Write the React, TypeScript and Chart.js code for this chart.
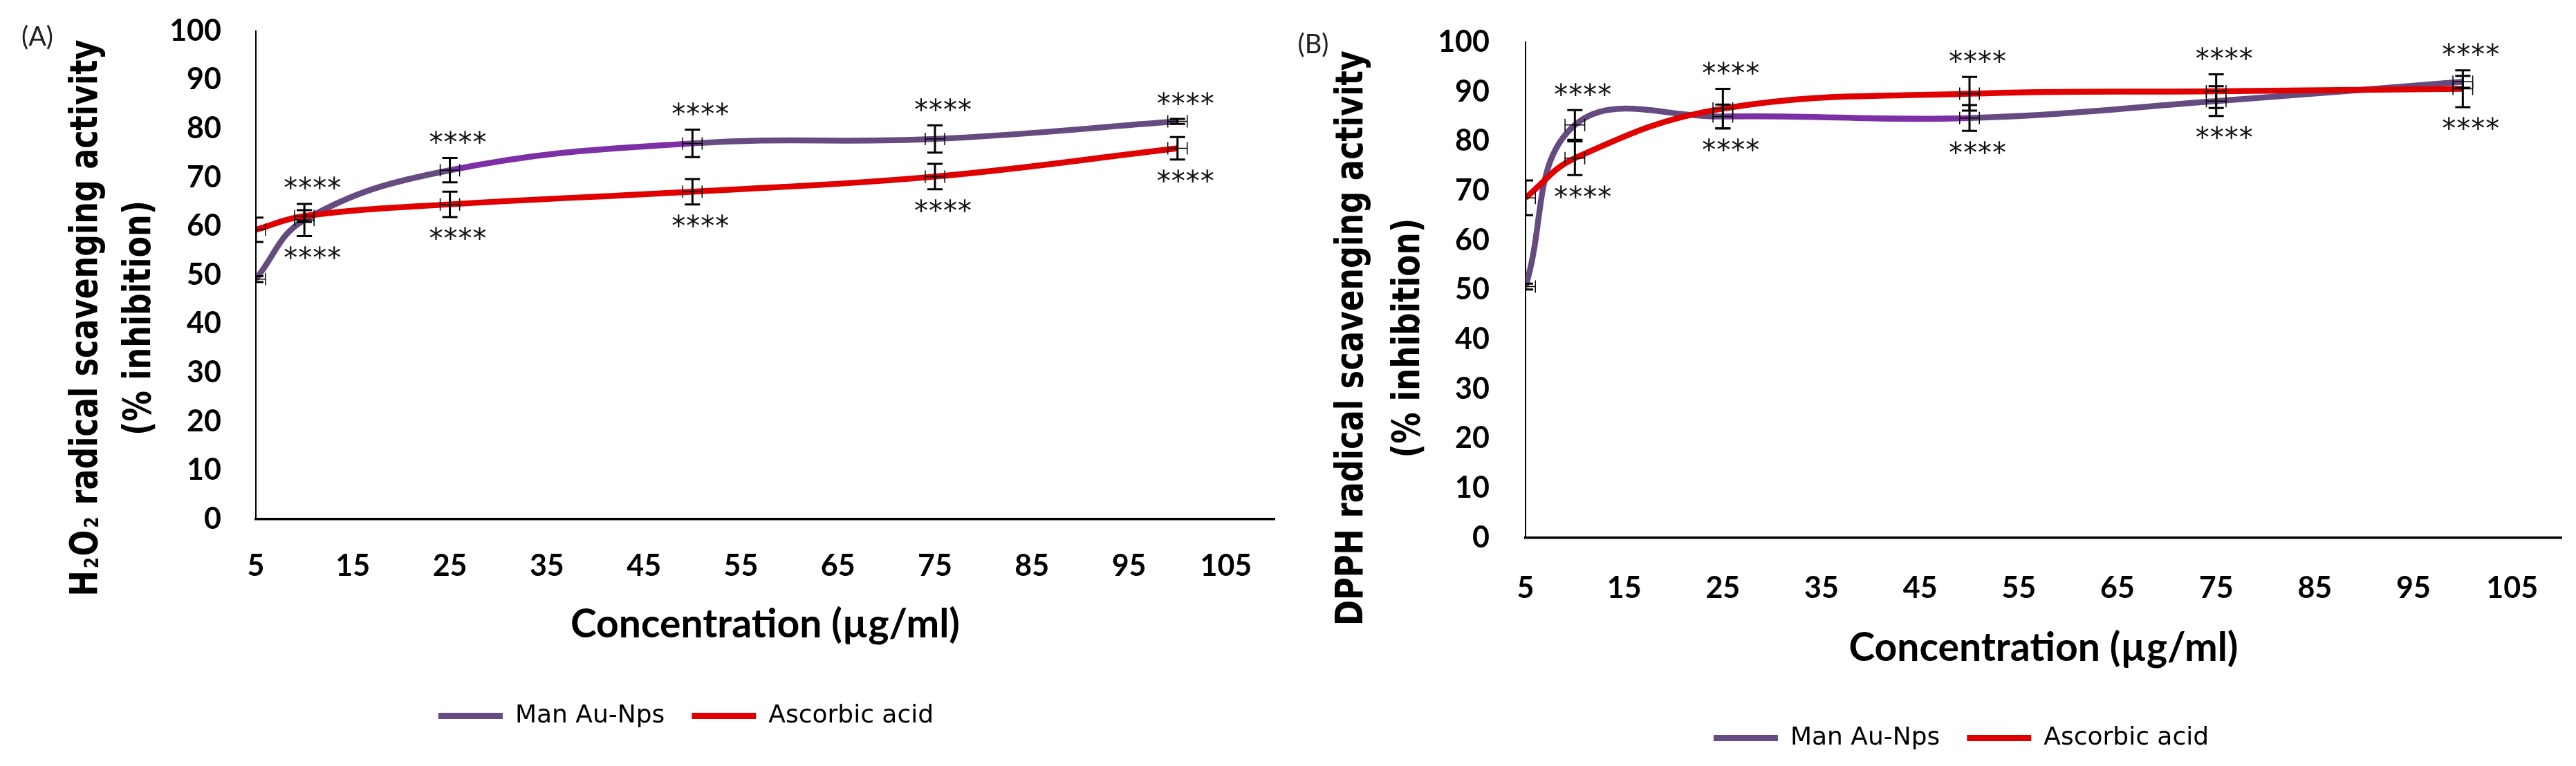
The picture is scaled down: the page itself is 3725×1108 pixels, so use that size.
import { useEffect, useRef } from 'react';
import { Chart, registerables } from 'chart.js';

Chart.register(...registerables);

// x positions of the measurements (µg/ml)
const concentrations = [5, 10, 25, 50, 75, 100];
const xTickValues = [5, 15, 25, 35, 45, 55, 65, 75, 85, 95, 105];
const yTickValues = [0, 10, 20, 30, 40, 50, 60, 70, 80, 90, 100];
const seriesNames = ['Man Au-Nps', 'Ascorbic acid'];
const significance = ['', '****', '****', '****', '****', '****'];
const concentrationError = 1;

// panel A: H2O2 scavenging
const h2o2Man = [49.2, 61.3, 71.5, 77.0, 77.9, 81.5];
const h2o2ManErr = [0.6, 3.3, 2.5, 2.8, 2.8, 0.5];
const h2o2Asc = [59.3, 62.1, 64.5, 67.1, 70.2, 76.0];
const h2o2AscErr = [2.5, 1.2, 2.6, 2.6, 2.6, 2.3];

// panel B: DPPH scavenging
const dpphMan = [50.7, 83.3, 85.0, 84.7, 88.1, 92.0];
const dpphManErr = [0.6, 3.0, 2.4, 2.6, 3.0, 1.2];
const dpphAsc = [68.6, 76.6, 86.6, 89.6, 90.1, 90.6];
const dpphAscErr = [3.5, 3.4, 4.0, 3.4, 3.4, 3.7];

const PURPLE = '#664b80';
const PURPLE_BRIGHT = '#7d2fa6';
const RED = '#e00000';
const HEIGHT = 1108;
const TITLE_SIZE = 56;

type Seg = { t: string; sub?: boolean };

type PanelProps = {
  tag: string;
  titleLine1: Seg[];
  titleLine2: string;
  man: number[];
  manErr: number[];
  asc: number[];
  ascErr: number[];
  width: number;
  padding: { left: number; right: number; top: number; bottom: number };
  yAxisWidth: number;
  xAxisHeight: number;
  xTickPad: number;
  xTitlePad: number;
  yTickPad: number;
  tagPos: [number, number];
  titleX: [number, number]; // baselines of the two rotated lines
  titleY: number;
  titleLen: [number, number];
};

function richWidths(ctx: CanvasRenderingContext2D, segs: Seg[], size: number) {
  const main = `bold ${size}px "DejaVu Sans"`;
  const small = `bold ${Math.round(size * 0.52)}px "DejaVu Sans"`;
  return segs.map((s) => {
    ctx.font = s.sub ? small : main;
    return ctx.measureText(s.t).width + (s.sub ? 6 : 0);
  });
}

// rotated title line, squeezed along the text to the wanted length
function drawTitleLine(
  ctx: CanvasRenderingContext2D,
  segs: Seg[],
  baseX: number,
  centerY: number,
  length: number
) {
  const size = TITLE_SIZE;
  const widths = richWidths(ctx, segs, size);
  const total = widths.reduce((a, b) => a + b, 0);
  ctx.save();
  ctx.translate(baseX, centerY);
  ctx.rotate(-Math.PI / 2);
  ctx.scale(length / total, 1);
  let cx = -total / 2;
  segs.forEach((s, i) => {
    ctx.font = s.sub ? `bold ${Math.round(size * 0.52)}px "DejaVu Sans"` : `bold ${size}px "DejaVu Sans"`;
    ctx.fillText(s.t, cx + (s.sub ? 4 : 0), s.sub ? 2 : 0);
    cx += widths[i];
  });
  ctx.restore();
}

function Panel(p: PanelProps) {
  const chartRef = useRef<HTMLCanvasElement>(null);

  useEffect(() => {
    if (!chartRef.current) return;

    const overlay = {
      id: 'overlay',
      afterDatasetsDraw(chart: any) {
        const { ctx, chartArea, scales } = chart;
        const x = scales.x;
        const y = scales.y;

        // error bars, clipped to the plot area
        ctx.save();
        ctx.beginPath();
        ctx.rect(chartArea.left, chartArea.top - 30, chartArea.right - chartArea.left, chartArea.bottom - chartArea.top + 30);
        ctx.clip();
        ctx.strokeStyle = '#000';
        const series: [number[], number[]][] = [[p.man, p.manErr], [p.asc, p.ascErr]];
        series.forEach(([vals, errs]) => {
          vals.forEach((v, i) => {
            const c = concentrations[i];
            const px = x.getPixelForValue(c);
            const py = y.getPixelForValue(v);
            const top = y.getPixelForValue(v + errs[i]);
            const bot = y.getPixelForValue(v - errs[i]);
            const xl = x.getPixelForValue(c - concentrationError);
            const xr = x.getPixelForValue(c + concentrationError);
            ctx.lineWidth = 3;
            ctx.beginPath();
            ctx.moveTo(px, top);
            ctx.lineTo(px, bot);
            ctx.moveTo(px - 11, top);
            ctx.lineTo(px + 11, top);
            ctx.moveTo(px - 11, bot);
            ctx.lineTo(px + 11, bot);
            ctx.stroke();
            ctx.lineWidth = 1.5;
            ctx.beginPath();
            ctx.moveTo(xl, py);
            ctx.lineTo(xr, py);
            ctx.moveTo(xl, py - 9);
            ctx.lineTo(xl, py + 9);
            ctx.moveTo(xr, py - 9);
            ctx.lineTo(xr, py + 9);
            ctx.stroke();
          });
        });
        ctx.restore();

        // significance stars
        ctx.save();
        ctx.fillStyle = '#111';
        ctx.font = '40px "DejaVu Sans"';
        (ctx as any).letterSpacing = '1px';
        ctx.textAlign = 'center';
        ctx.textBaseline = 'alphabetic';
        const m = ctx.measureText('****');
        const shift = (m.actualBoundingBoxAscent - m.actualBoundingBoxDescent) / 2;
        significance.forEach((s, i) => {
          if (!s) return;
          const px = x.getPixelForValue(concentrations[i]) + 12;
          const topPx = Math.min(
            y.getPixelForValue(p.man[i] + p.manErr[i]),
            y.getPixelForValue(p.asc[i] + p.ascErr[i])
          );
          const botPx = Math.max(
            y.getPixelForValue(p.man[i] - p.manErr[i]),
            y.getPixelForValue(p.asc[i] - p.ascErr[i])
          );
          ctx.fillText(s, px, topPx - 30 + shift);
          ctx.fillText(s, px, botPx + 24 + shift);
        });
        ctx.restore();
      },
      afterDraw(chart: any) {
        const { ctx } = chart;
        ctx.save();
        ctx.fillStyle = '#000';
        ctx.textBaseline = 'alphabetic';
        ctx.textAlign = 'left';
        drawTitleLine(ctx, p.titleLine1, p.titleX[0], p.titleY, p.titleLen[0]);
        drawTitleLine(ctx, [{ t: p.titleLine2 }], p.titleX[1], p.titleY, p.titleLen[1]);
        // panel tag
        ctx.font = '38px Lato';
        ctx.textAlign = 'center';
        ctx.textBaseline = 'middle';
        ctx.fillStyle = '#222';
        ctx.fillText(p.tag, p.tagPos[0], p.tagPos[1]);
        ctx.restore();
      },
    };

    const chart = new Chart(chartRef.current, {
      type: 'line',
      data: {
        datasets: [
          {
            label: seriesNames[0],
            data: concentrations.map((c, i) => ({ x: c, y: p.man[i] })),
            borderColor: PURPLE,
            backgroundColor: PURPLE,
            borderWidth: 8.5,
            pointRadius: 0,
            tension: 0.4,
            order: 1,
            segment: {
              borderColor: (c: any) => (c.p0DataIndex === 2 ? PURPLE_BRIGHT : PURPLE),
            },
          },
          {
            label: seriesNames[1],
            data: concentrations.map((c, i) => ({ x: c, y: p.asc[i] })),
            borderColor: RED,
            backgroundColor: RED,
            borderWidth: 8.5,
            pointRadius: 0,
            tension: 0.4,
            order: 0,
          },
        ],
      },
      options: {
        animation: false,
        responsive: false,
        events: [],
        layout: { padding: p.padding },
        plugins: {
          tooltip: { enabled: false },
          legend: {
            position: 'bottom',
            labels: {
              boxWidth: 93,
              boxHeight: 9,
              padding: 39,
              color: '#000',
              font: { family: '"DejaVu Sans"', size: 36 },
              sort: (a: any, b: any) => a.datasetIndex - b.datasetIndex,
              generateLabels: (ch: any) =>
                ch.data.datasets.map((ds: any, i: number) => ({
                  text: ds.label,
                  fillStyle: ds.borderColor,
                  strokeStyle: ds.borderColor,
                  lineWidth: 0,
                  hidden: false,
                  datasetIndex: i,
                  fontColor: '#000',
                })),
            },
          },
        },
        scales: {
          x: {
            type: 'linear',
            min: 5,
            max: 110,
            afterBuildTicks: (scale: any) => {
              scale.ticks = xTickValues.map((value) => ({ value }));
            },
            afterFit: (scale: any) => {
              scale.height = p.xAxisHeight;
              scale.paddingLeft = 0;
              scale.paddingRight = 0;
            },
            grid: { display: false, drawTicks: false },
            border: { display: true, color: '#000', width: 3.5 },
            ticks: {
              autoSkip: false,
              maxRotation: 0,
              padding: p.xTickPad,
              color: '#000',
              font: { family: 'Lato', size: 43, weight: 'bold' },
            },
            title: {
              display: true,
              text: 'Concentration (µg/ml)',
              color: '#000',
              font: { family: 'Lato', size: 57, weight: 'bold' },
              padding: { top: 0, bottom: p.xTitlePad },
            },
          },
          y: {
            type: 'linear',
            min: 0,
            max: 100,
            afterBuildTicks: (scale: any) => {
              scale.ticks = yTickValues.map((value) => ({ value }));
            },
            afterFit: (scale: any) => {
              scale.width = p.yAxisWidth;
              scale.paddingTop = 0;
              scale.paddingBottom = 0;
            },
            grid: { display: false, drawTicks: false },
            border: { display: true, color: '#000', width: 2 },
            ticks: {
              padding: p.yTickPad,
              color: '#000',
              font: { family: 'Lato', size: 43, weight: 'bold' },
            },
          },
        },
      } as any,
      plugins: [overlay],
    });

    return () => chart.destroy();
  }, []);

  return (
    <canvas
      ref={chartRef}
      width={p.width}
      height={HEIGHT}
      style={{ width: p.width, height: HEIGHT, display: 'block' }}
    />
  );
}

export default function App() {
  return (
    <div
      style={{
        position: 'absolute',
        left: 0,
        top: 0,
        width: 3725,
        height: HEIGHT,
        background: '#fff',
        overflow: 'hidden',
      }}
    >
      <div style={{ position: 'absolute', left: 0, top: 0 }}>
        <Panel
          tag="(A)"
          titleLine1={[{ t: 'H' }, { t: '2', sub: true }, { t: 'O' }, { t: '2', sub: true }, { t: ' radical scavenging activity' }]}
          titleLine2="(% inhibition)"
          man={h2o2Man}
          manErr={h2o2ManErr}
          asc={h2o2Asc}
          ascErr={h2o2AscErr}
          width={1850}
          padding={{ left: 141, right: 7, top: 45, bottom: 44.5 }}
          yAxisWidth={229}
          xAxisHeight={227.5}
          xTickPad={42}
          xTitlePad={41}
          yTickPad={50}
          tagPos={[54, 54]}
          titleX={[140, 217]}
          titleY={460}
          titleLen={[805, 340]}
        />
      </div>
      <div style={{ position: 'absolute', left: 1850, top: 0 }}>
        <Panel
          tag="(B)"
          titleLine1={[{ t: 'DPPH radical scavenging activity' }]}
          titleLine2="(% inhibition)"
          man={dpphMan}
          manErr={dpphManErr}
          asc={dpphAsc}
          ascErr={dpphAscErr}
          width={1875}
          padding={{ left: 118, right: 21, top: 61, bottom: 12.5 }}
          yAxisWidth={238}
          xAxisHeight={232.5}
          xTickPad={47}
          xTitlePad={39}
          yTickPad={52}
          tagPos={[49, 65]}
          titleX={[120, 202]}
          titleY={489}
          titleLen={[832, 347]}
        />
      </div>
    </div>
  );
}
